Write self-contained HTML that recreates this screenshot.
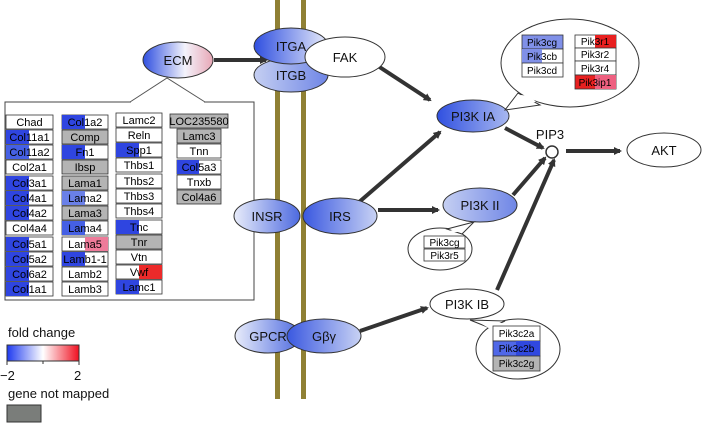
<!DOCTYPE html>
<html><head><meta charset="utf-8"><style>
body{margin:0;background:#fff}
svg{display:block;font-family:"Liberation Sans",sans-serif}
</style></head><body>
<svg width="702" height="424" viewBox="0 0 702 424" xmlns="http://www.w3.org/2000/svg">
<defs>
<linearGradient id="bL" x1="0" x2="1"><stop offset="0" stop-color="#2f4fe0"/><stop offset="1" stop-color="#e8ecfa"/></linearGradient>
<linearGradient id="bR" x1="0" x2="1"><stop offset="0" stop-color="#e8ecfa"/><stop offset="1" stop-color="#4d6ae0"/></linearGradient>
<linearGradient id="ecm" x1="0" x2="1"><stop offset="0" stop-color="#2f4fe0"/><stop offset="0.6" stop-color="#f3f3fb"/><stop offset="1" stop-color="#e8a7b6"/></linearGradient>
<linearGradient id="mid" x1="0" x2="1"><stop offset="0" stop-color="#3a58e0"/><stop offset="1" stop-color="#c8d2f4"/></linearGradient>
<linearGradient id="pl" x1="0" x2="1"><stop offset="0" stop-color="#c5cff2"/><stop offset="1" stop-color="#6f86e6"/></linearGradient>
<linearGradient id="pia" x1="0" x2="1"><stop offset="0" stop-color="#3050e0"/><stop offset="1" stop-color="#a8b8f0"/></linearGradient>
<linearGradient id="leg" x1="0" x2="1"><stop offset="0" stop-color="#1e3af0"/><stop offset="0.5" stop-color="#ffffff"/><stop offset="1" stop-color="#f01020"/></linearGradient>
<marker id="ar" markerWidth="8" markerHeight="8" refX="6" refY="4" orient="auto" markerUnits="userSpaceOnUse"><path d="M0,0 L8,4 L0,8 z" fill="#333"/></marker>
</defs>
<!-- membrane -->
<rect x="275" y="0" width="5" height="399" fill="#8f8034"/>
<rect x="301" y="0" width="5" height="399" fill="#8f8034"/>

<!-- arrows -->
<g stroke="#333" stroke-width="4" fill="none" marker-end="url(#ar)">
<line x1="214" y1="60" x2="266" y2="60"/>
<line x1="378" y1="66" x2="430" y2="100"/>
<line x1="358" y1="203" x2="440" y2="132"/>
<line x1="378" y1="210" x2="438" y2="210"/>
<line x1="505" y1="128" x2="543" y2="148"/>
<line x1="513" y1="195" x2="545" y2="158"/>
<line x1="497" y1="290" x2="554" y2="160"/>
<line x1="566" y1="151" x2="620" y2="151"/>
<line x1="360" y1="331" x2="427" y2="308"/>
</g>

<!-- ECM callout -->
<rect x="5" y="102" width="249" height="198" fill="none" stroke="#444" stroke-width="1"/>
<rect x="131" y="101" width="73" height="2" fill="#fff"/>
<polyline points="130,102 167,78 205,102" fill="none" stroke="#555" stroke-width="1"/>

<g font-size="11" text-anchor="middle" stroke="#333" stroke-width="0.8">
<rect x="6" y="115" width="47" height="14" fill="#fff"/><text x="29.5" y="126" stroke="none">Chad</text>
<rect x="6" y="130" width="47" height="14" fill="#fff"/><rect x="6" y="130" width="23" height="14" fill="#2f45e0" stroke="none"/><text x="29.5" y="141" stroke="none">Col11a1</text>
<rect x="6" y="145" width="47" height="14" fill="#fff"/><rect x="6" y="145" width="23" height="14" fill="#4560e4" stroke="none"/><text x="29.5" y="156" stroke="none">Col11a2</text>
<rect x="6" y="160" width="47" height="14" fill="#fff"/><text x="29.5" y="171" stroke="none">Col2a1</text>
<rect x="6" y="176" width="47" height="14" fill="#fff"/><rect x="6" y="176" width="23" height="14" fill="#2f45e0" stroke="none"/><text x="29.5" y="187" stroke="none">Col3a1</text>
<rect x="6" y="191" width="47" height="14" fill="#fff"/><rect x="6" y="191" width="23" height="14" fill="#2f45e0" stroke="none"/><text x="29.5" y="202" stroke="none">Col4a1</text>
<rect x="6" y="206" width="47" height="14" fill="#fff"/><rect x="6" y="206" width="23" height="14" fill="#2f45e0" stroke="none"/><text x="29.5" y="217" stroke="none">Col4a2</text>
<rect x="6" y="221" width="47" height="14" fill="#fff"/><text x="29.5" y="232" stroke="none">Col4a4</text>
<rect x="6" y="237" width="47" height="14" fill="#fff"/><rect x="6" y="237" width="23" height="14" fill="#2f45e0" stroke="none"/><text x="29.5" y="248" stroke="none">Col5a1</text>
<rect x="6" y="252" width="47" height="14" fill="#fff"/><rect x="6" y="252" width="23" height="14" fill="#2f45e0" stroke="none"/><text x="29.5" y="263" stroke="none">Col5a2</text>
<rect x="6" y="267" width="47" height="14" fill="#fff"/><rect x="6" y="267" width="23" height="14" fill="#2f45e0" stroke="none"/><text x="29.5" y="278" stroke="none">Col6a2</text>
<rect x="6" y="282" width="47" height="14" fill="#fff"/><rect x="6" y="282" width="23" height="14" fill="#2f45e0" stroke="none"/><text x="29.5" y="293" stroke="none">Col1a1</text>
<rect x="62" y="115" width="46" height="14" fill="#fff"/><rect x="62" y="115" width="23" height="14" fill="#2f45e0" stroke="none"/><text x="85" y="126" stroke="none">Col1a2</text>
<rect x="62" y="130" width="46" height="14" fill="#b4b4b4"/><text x="85" y="141" stroke="none">Comp</text>
<rect x="62" y="145" width="46" height="14" fill="#fff"/><rect x="62" y="145" width="23" height="14" fill="#2f45e0" stroke="none"/><text x="85" y="156" stroke="none">Fn1</text>
<rect x="62" y="160" width="46" height="14" fill="#b4b4b4"/><text x="85" y="171" stroke="none">Ibsp</text>
<rect x="62" y="176" width="46" height="14" fill="#b4b4b4"/><text x="85" y="187" stroke="none">Lama1</text>
<rect x="62" y="191" width="46" height="14" fill="#fff"/><rect x="62" y="191" width="23" height="14" fill="#6a80e8" stroke="none"/><text x="85" y="202" stroke="none">Lama2</text>
<rect x="62" y="206" width="46" height="14" fill="#b4b4b4"/><text x="85" y="217" stroke="none">Lama3</text>
<rect x="62" y="221" width="46" height="14" fill="#fff"/><rect x="62" y="221" width="23" height="14" fill="#4560e4" stroke="none"/><text x="85" y="232" stroke="none">Lama4</text>
<rect x="62" y="237" width="46" height="14" fill="#fff"/><rect x="85" y="237" width="23" height="14" fill="#ee7b9a" stroke="none"/><text x="85" y="248" stroke="none">Lama5</text>
<rect x="62" y="252" width="46" height="14" fill="#fff"/><rect x="62" y="252" width="23" height="14" fill="#2f45e0" stroke="none"/><text x="85" y="263" stroke="none">Lamb1-1</text>
<rect x="62" y="267" width="46" height="14" fill="#fff"/><text x="85" y="278" stroke="none">Lamb2</text>
<rect x="62" y="282" width="46" height="14" fill="#fff"/><text x="85" y="293" stroke="none">Lamb3</text>
<rect x="116" y="113" width="46" height="14" fill="#fff"/><text x="139" y="124" stroke="none">Lamc2</text>
<rect x="116" y="128" width="46" height="14" fill="#fff"/><text x="139" y="139" stroke="none">Reln</text>
<rect x="116" y="143" width="46" height="14" fill="#fff"/><rect x="116" y="143" width="23" height="14" fill="#2f45e0" stroke="none"/><text x="139" y="154" stroke="none">Spp1</text>
<rect x="116" y="158" width="46" height="14" fill="#fff"/><text x="139" y="169" stroke="none">Thbs1</text>
<rect x="116" y="174" width="46" height="14" fill="#fff"/><text x="139" y="185" stroke="none">Thbs2</text>
<rect x="116" y="189" width="46" height="14" fill="#fff"/><text x="139" y="200" stroke="none">Thbs3</text>
<rect x="116" y="204" width="46" height="14" fill="#fff"/><text x="139" y="215" stroke="none">Thbs4</text>
<rect x="116" y="220" width="46" height="14" fill="#fff"/><rect x="116" y="220" width="23" height="14" fill="#2f45e0" stroke="none"/><text x="139" y="231" stroke="none">Tnc</text>
<rect x="116" y="235" width="46" height="14" fill="#b4b4b4"/><text x="139" y="246" stroke="none">Tnr</text>
<rect x="116" y="250" width="46" height="14" fill="#fff"/><text x="139" y="261" stroke="none">Vtn</text>
<rect x="116" y="265" width="46" height="14" fill="#fff"/><rect x="139" y="265" width="23" height="14" fill="#ec2a2a" stroke="none"/><text x="139" y="276" stroke="none">Vwf</text>
<rect x="116" y="280" width="46" height="14" fill="#fff"/><rect x="116" y="280" width="23" height="14" fill="#2f45e0" stroke="none"/><text x="139" y="291" stroke="none">Lamc1</text>
<rect x="170" y="114" width="58" height="14" fill="#b4b4b4"/><text x="199" y="125" stroke="none">LOC235580</text>
<rect x="177" y="129" width="44" height="14" fill="#b4b4b4"/><text x="199" y="140" stroke="none">Lamc3</text>
<rect x="177" y="144" width="44" height="14" fill="#fff"/><text x="199" y="155" stroke="none">Tnn</text>
<rect x="177" y="160" width="44" height="14" fill="#fff"/><rect x="177" y="160" width="22" height="14" fill="#2f45e0" stroke="none"/><text x="199" y="171" stroke="none">Col5a3</text>
<rect x="177" y="175" width="44" height="14" fill="#fff"/><text x="199" y="186" stroke="none">Tnxb</text>
<rect x="177" y="190" width="44" height="14" fill="#b4b4b4"/><text x="199" y="201" stroke="none">Col4a6</text>
</g>

<!-- nodes -->
<g stroke="#333" stroke-width="1">
<ellipse cx="178" cy="60" rx="35" ry="18" fill="url(#ecm)"/>
<ellipse cx="291" cy="75" rx="37" ry="17" fill="url(#pl)"/>
<ellipse cx="291" cy="46" rx="37" ry="18" fill="url(#bL)"/>
<ellipse cx="345" cy="57" rx="40" ry="20" fill="#fff"/>
<ellipse cx="473" cy="116" rx="36" ry="16" fill="url(#pia)"/>
<circle cx="552" cy="152" r="6" fill="#fff" stroke-width="1.5"/>
<ellipse cx="664" cy="150" rx="37" ry="17" fill="#fff"/>
<ellipse cx="267" cy="216" rx="33" ry="17" fill="url(#bR)"/>
<ellipse cx="340" cy="216" rx="37" ry="18" fill="url(#mid)"/>
<ellipse cx="480" cy="205" rx="37" ry="17" fill="url(#pl)"/>
<ellipse cx="467" cy="304" rx="37" ry="15" fill="#fff"/>
<ellipse cx="268" cy="336" rx="33" ry="17" fill="url(#bR)"/>
<ellipse cx="324" cy="336" rx="37" ry="17" fill="url(#mid)"/>
<!-- bubbles -->
<ellipse cx="570" cy="63" rx="69" ry="44" fill="#fff"/>
<polygon points="518,93 505,110 540,105" fill="#fff"/>
<ellipse cx="440" cy="249" rx="32" ry="21" fill="#fff"/>
<polygon points="447,229 474,222 462,234" fill="#fff"/>
<ellipse cx="518" cy="349" rx="42" ry="30" fill="#fff"/>
<polygon points="490,328 470,320 505,321" fill="#fff"/>
</g>
<g fill="#fff" stroke="none">
<polygon points="521,95 512,105 536,102 530,96"/>
<polygon points="449,231 467,226 461,232 452,232"/>
<polygon points="492,330 480,323 503,323 500,328"/>
</g>

<g font-size="13" text-anchor="middle" fill="#111">
<text x="178" y="65">ECM</text>
<text x="291" y="51">ITGA</text>
<text x="291" y="80">ITGB</text>
<text x="345" y="62">FAK</text>
<text x="473" y="121">PI3K IA</text>
<text x="550" y="139">PIP3</text>
<text x="664" y="155">AKT</text>
<text x="267" y="221">INSR</text>
<text x="340" y="221">IRS</text>
<text x="480" y="210">PI3K II</text>
<text x="467" y="309">PI3K IB</text>
<text x="268" y="341">GPCR</text>
<text x="324" y="341">Gβγ</text>
</g>

<g font-size="10" text-anchor="middle" stroke="#333" stroke-width="0.8">
<rect x="522" y="35" width="41" height="14" fill="#8090e8"/><text x="542" y="46" stroke="none">Pik3cg</text>
<rect x="522" y="49" width="41" height="14" fill="#fff"/><rect x="522" y="49" width="20" height="14" fill="#8090e8" stroke="none"/><text x="542" y="60" stroke="none">Pik3cb</text>
<rect x="522" y="63" width="41" height="14" fill="#fff"/><text x="542" y="74" stroke="none">Pik3cd</text>
<rect x="575" y="35" width="41" height="13" fill="#fff"/><rect x="595" y="35" width="21" height="13" fill="#e82020" stroke="none"/><text x="595" y="45" stroke="none">Pik3r1</text>
<rect x="575" y="48" width="41" height="13" fill="#fff"/><text x="595" y="58" stroke="none">Pik3r2</text>
<rect x="575" y="61" width="41" height="14" fill="#fff"/><text x="595" y="72" stroke="none">Pik3r4</text>
<rect x="575" y="75" width="41" height="14" fill="#e82020"/><rect x="595" y="75" width="21" height="14" fill="#ee6080" stroke="none"/><text x="595" y="86" stroke="none">Pik3ip1</text>
<rect x="424" y="236" width="41" height="12" fill="#fff"/><text x="444.5" y="246" stroke="none">Pik3cg</text>
<rect x="424" y="249" width="41" height="12" fill="#fff"/><text x="444.5" y="259" stroke="none">Pik3r5</text>
<rect x="493" y="326" width="47" height="15" fill="#fff"/><text x="516.5" y="337" stroke="none">Pik3c2a</text>
<rect x="493" y="341" width="47" height="15" fill="#5068e8"/><rect x="516" y="341" width="24" height="15" fill="#3048e0" stroke="none"/><text x="516.5" y="352" stroke="none">Pik3c2b</text>
<rect x="493" y="356" width="47" height="15" fill="#b4b4b4"/><text x="516.5" y="367" stroke="none">Pik3c2g</text>
</g>

<!-- legend -->
<g font-size="13" fill="#111">
<text x="8" y="337">fold change</text>
<rect x="7" y="345" width="72" height="16" fill="url(#leg)" stroke="#333" stroke-width="1"/>
<line x1="7" y1="361" x2="7" y2="365" stroke="#333"/><line x1="43" y1="361" x2="43" y2="364" stroke="#333"/><line x1="79" y1="361" x2="79" y2="365" stroke="#333"/>
<text x="0" y="380">−2</text>
<text x="74" y="380">2</text>
<text x="8" y="398">gene not mapped</text>
<rect x="7" y="405" width="34" height="17" fill="#7a7d7a" stroke="#333"/>
</g>
</svg>
</body></html>
